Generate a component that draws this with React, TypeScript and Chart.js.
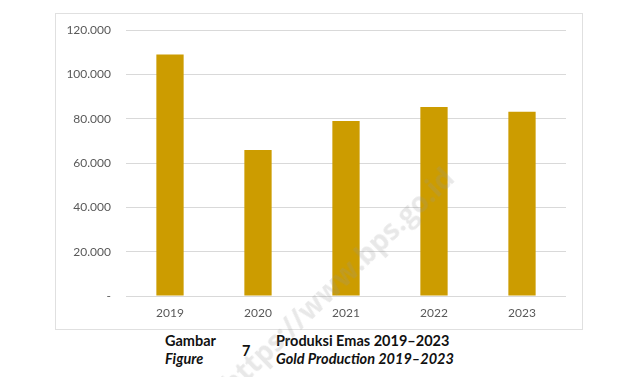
import React, { useEffect, useRef } from "react";
import { Chart, registerables } from "chart.js";

Chart.register(...registerables);

const years = ["2019", "2020", "2021", "2022", "2023"];
const production = [109000, 65900, 79000, 85300, 83100];
const yTicks = [0, 20000, 40000, 60000, 80000, 100000, 120000];

const fmt = (v: number) =>
  v === 0 ? "-" : String(v).replace(/\B(?=(\d{3})+(?!\d))/g, ".");

export default function App() {
  const ref = useRef<HTMLCanvasElement | null>(null);
  useEffect(() => {
    if (!ref.current) return;
    const chart = new Chart(ref.current, {
      type: "bar",
      data: {
        labels: years,
        datasets: [
          {
            data: production,
            backgroundColor: "#CC9C00",
            borderWidth: 0,
            barPercentage: 0.31,
            categoryPercentage: 1,
          },
        ],
      },
      options: {
        animation: false,
        responsive: false,
        maintainAspectRatio: false,
        layout: { padding: { top: 16, right: 16, bottom: 0, left: 0 } },
        plugins: { legend: { display: false }, tooltip: { enabled: false } },
        scales: {
          x: {
            grid: { display: false },
            border: { display: false },
            ticks: {
              color: "#595959",
              font: { family: "Lato", size: 12 },
              padding: 2,
            },
            afterFit: (s: any) => {
              s.height = 33;
            },
          },
          y: {
            min: 0,
            max: 120000,
            afterBuildTicks: (s: any) => {
              s.ticks = yTicks.map((v) => ({ value: v }));
            },
            grid: { color: "#d9d9d9", drawTicks: false },
            border: { display: false },
            ticks: {
              color: "#595959",
              font: { family: "Lato", size: 12 },
              padding: 15,
              callback: (v: any) => fmt(Number(v)),
            },
            afterFit: (s: any) => {
              s.width = 70;
              s.paddingTop = 0;
            },
          },
        },
      },
    });
    return () => chart.destroy();
  }, []);

  const cap: React.CSSProperties = {
    position: "absolute",
    fontFamily: "Lato, 'Open Sans', sans-serif",
    fontWeight: 700,
    fontSize: 14.5,
    color: "#111",
    lineHeight: "18px",
    whiteSpace: "nowrap",
  };

  return (
    <div
      style={{
        position: "fixed",
        left: 0,
        top: 0,
        width: 632,
        height: 377,
        background: "#fff",
        overflow: "hidden",
      }}
    >
      <div
        style={{
          position: "absolute",
          left: 55,
          top: 13,
          width: 526,
          height: 315,
          border: "1px solid #e0e0e0",
          background: "#fff",
        }}
      >
        <canvas ref={ref} width={526} height={315} style={{ display: "block" }} />
      </div>
      <div style={{ ...cap, left: 165, top: 332 }}>Gambar</div>
      <div style={{ ...cap, left: 165, top: 350, fontStyle: "italic" }}>Figure</div>
      <div style={{ ...cap, left: 242, top: 342 }}>7</div>
      <div style={{ ...cap, left: 276, top: 332 }}>Produksi Emas 2019–2023</div>
      <div style={{ ...cap, left: 276, top: 350, fontStyle: "italic" }}>
        Gold Production 2019–2023
      </div>
      <div
        style={{
          position: "absolute",
          left: 337,
          top: 280,
          transform: "translate(-50%, -50%) rotate(-44deg)",
          fontFamily: "'Open Sans', sans-serif",
          fontWeight: 700,
          fontSize: 28,
          color: "rgba(150,150,150,0.22)",
          whiteSpace: "nowrap",
          pointerEvents: "none",
        }}
      >
        https://www.bps.go.id
      </div>
    </div>
  );
}
